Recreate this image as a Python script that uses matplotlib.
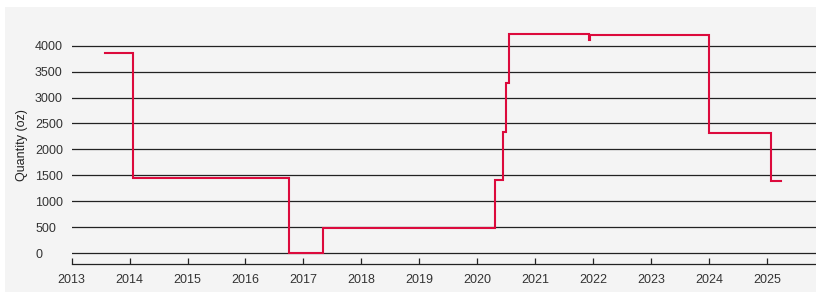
import matplotlib
matplotlib.use("Agg")
import matplotlib.pyplot as plt
from matplotlib.patches import Rectangle

# Data (decimal year where each level starts, quantity in oz)
dates = [2013.58, 2014.06, 2016.75, 2017.34, 2020.30, 2020.45, 2020.49,
         2020.55, 2021.93, 2021.95, 2024.0, 2025.08, 2025.24]
values = [3860, 1440, 0, 478, 1405, 2342, 3288,
          4220, 4110, 4205, 2322, 1390, 1390]
xticks = list(range(2013, 2026))
yticks = list(range(0, 4001, 500))

plt.rcParams['font.family'] = ['Liberation Sans', 'DejaVu Sans']

W, H = 816, 293
fig = plt.figure(figsize=(W / 100, H / 100), dpi=100, facecolor='white')
fig.patches.append(Rectangle((5 / W, 1 / H), 1 - 5 / W, (H - 8) / H,
                             transform=fig.transFigure, facecolor='#f4f4f4',
                             edgecolor='none', zorder=-10))

ax = fig.add_axes([71.7 / W, (H - 264) / H, (W - 71.7) / W, (264 - 26) / H])
ax.set_facecolor('none')

ax.plot(dates, values, drawstyle='steps-post', color='#dc0a3c', lw=1.5,
        solid_joinstyle='miter', zorder=3)

ax.set_xlim(2013.0, 2025.85)
ax.set_ylim(-212, 4380)
ax.set_xticks(xticks)
ax.set_xticklabels([str(t) for t in xticks])
ax.set_yticks(yticks)
ax.set_yticklabels([str(t) for t in yticks])

for s in ['top', 'right', 'left']:
    ax.spines[s].set_visible(False)
ax.spines['bottom'].set_color('#222222')
ax.spines['bottom'].set_linewidth(0.9)

ax.grid(axis='y', color='#222222', lw=0.9, zorder=1)
ax.set_axisbelow(True)

ax.tick_params(axis='x', direction='in', length=4.3, width=0.9, color='#222222',
               pad=7.0, labelsize=9, labelcolor='#333333')
ax.tick_params(axis='y', length=0, pad=26.4, labelsize=9, labelcolor='#333333')
for lbl in ax.get_yticklabels():
    lbl.set_horizontalalignment('left')

fig.text(22 / W, (H - 145) / H, 'Quantity (oz)', rotation=90, ha='center',
         va='center', fontsize=9, color='#222222')

fig.savefig('out.png', dpi=100, facecolor=fig.get_facecolor())
